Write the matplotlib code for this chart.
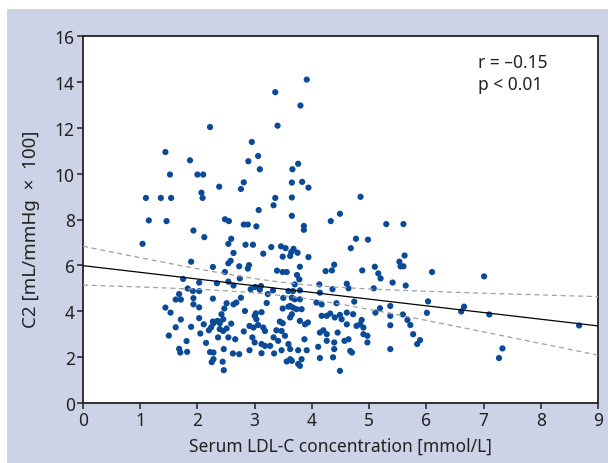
import numpy as np
import matplotlib
matplotlib.use('Agg')
import matplotlib.pyplot as plt
from matplotlib.patches import Rectangle

plt.rcParams['font.family'] = ['Noto Sans', 'DejaVu Sans']

# serum LDL-C [mmol/L] and C2 [mL/mmHg x 100]
ldl = [3.91, 3.36, 3.80, 2.22, 3.40, 2.95, 1.44, 1.87, 2.89, 3.06, 1.52, 2.00, 2.10, 3.09, 2.81, 2.38, 2.76,
       2.07, 2.09, 1.10, 1.36, 1.54, 3.36, 3.33, 3.07, 1.15, 1.46, 2.48, 2.55, 2.81, 2.88, 3.03, 1.93, 2.12,
       1.04, 2.59, 2.54, 2.84, 2.97, 3.29, 3.46, 2.63, 3.15, 1.89, 2.27, 2.54, 2.58, 2.73, 2.90, 2.88, 3.39,
       3.76, 3.66, 3.65, 3.83, 3.94, 3.65, 4.85, 3.65, 4.49, 4.33, 5.30, 3.86, 3.86, 4.77, 4.98, 4.68, 3.54,
       3.68, 3.64, 3.62, 3.75, 3.49, 3.94,
       5.60, 5.62, 5.53, 5.55, 5.60, 6.10, 7.01, 5.41, 5.64, 5.37, 5.37, 5.37, 5.37, 6.03, 6.01, 5.59, 5.67,
       5.72, 5.77, 5.84, 5.89, 6.61, 6.66, 7.10, 7.33, 7.27, 8.67,
       1.75, 2.03, 1.83, 1.92, 2.03, 1.68, 1.62, 1.71, 1.93, 1.93, 2.27, 1.44, 1.53, 2.03, 1.71, 2.03, 2.11,
       2.27, 1.62, 1.89, 2.20, 2.24, 2.05, 1.50, 1.81, 2.15, 1.68, 1.70, 1.82, 2.22, 2.25,
       2.48, 3.49, 3.56, 2.74, 2.34, 2.54, 2.63, 2.93, 3.01, 3.11, 3.09, 3.32, 3.23, 3.50, 2.76, 2.51, 2.63,
       2.68, 3.21, 2.47, 3.49, 3.59, 2.83, 3.02, 3.00, 3.12, 2.42, 2.35, 2.28, 2.39, 2.45, 2.59, 3.03, 3.44,
       3.49, 2.39, 2.45, 2.51, 2.81, 2.91, 2.98, 3.06, 3.15, 3.18, 3.38, 3.47, 2.36, 2.54, 2.66, 2.96, 3.00,
       3.33, 3.41, 3.12, 3.18, 3.27, 2.46, 2.28, 2.91, 2.62, 2.73, 3.12, 3.34, 3.47, 3.56, 2.28, 2.44, 2.46,
       3.79, 3.74, 3.78, 4.24, 4.39, 4.35, 4.88, 3.70, 3.79, 3.59, 3.67, 4.13, 4.14, 4.36, 4.61, 4.64, 3.65,
       3.70, 3.79, 4.08, 4.17, 4.43, 4.74, 3.62, 3.67, 3.73, 3.82, 3.65, 3.62, 4.17, 4.26, 4.32, 4.40, 4.49,
       4.52, 4.61, 4.61, 4.72, 4.78, 4.84, 4.90, 3.79, 3.88, 3.93, 3.53, 3.87, 4.14, 4.20, 4.26, 4.26, 4.45,
       4.57, 4.64, 4.39, 4.39, 3.59, 3.62, 3.76, 3.91, 4.11, 4.67, 4.70, 3.62, 3.65, 3.82, 3.76, 3.79, 4.14,
       4.37, 4.49,
       5.10, 5.16, 5.20, 5.08, 5.19, 5.11, 4.87, 4.90, 4.97, 4.97]
c2 = [14.10, 13.55, 12.97, 12.03, 12.09, 11.38, 10.94, 10.58, 10.54, 10.77, 9.96, 9.96, 9.96, 10.19, 9.62,
      9.43, 9.33, 9.17, 8.94, 8.94, 8.94, 8.94, 8.94, 8.62, 8.41, 7.96, 7.93, 8.01, 7.93, 7.78, 7.78, 7.70,
      7.52, 7.23, 6.94, 7.16, 6.94, 6.90, 6.90, 6.80, 6.83, 6.54, 6.51, 6.16, 5.93, 6.09, 6.20, 5.96, 6.01,
      5.86, 5.77,
      10.43, 10.19, 9.61, 9.64, 9.39, 8.96, 8.99, 8.16, 8.25, 7.93, 7.80, 7.72, 7.55, 7.16, 7.12, 6.75, 6.75,
      6.72, 6.58, 6.41, 6.55, 6.38, 6.36,
      7.80, 6.43, 6.16, 5.96, 5.96, 5.71, 5.52, 5.25, 5.12, 4.23, 3.80, 3.39, 2.35, 4.43, 3.93, 3.86, 3.62,
      3.40, 3.00, 2.57, 2.74, 3.99, 4.20, 3.86, 2.38, 1.96, 3.38,
      5.41, 5.25, 4.99, 4.88, 4.88, 4.75, 4.51, 4.51, 4.57, 4.30, 4.55, 4.16, 3.94, 4.17, 3.64, 3.70, 3.43,
      3.55, 3.30, 3.32, 3.17, 3.30, 3.03, 2.94, 2.70, 2.62, 2.36, 2.20, 2.23, 2.22, 1.78,
      5.71, 5.71, 5.71, 5.43, 5.22, 5.29, 5.12, 4.96, 5.06, 5.10, 4.94, 4.91, 4.75, 4.58, 4.59, 4.35, 4.30,
      4.38, 4.36, 4.12, 4.12, 4.20, 4.01, 3.91, 3.80, 3.96, 3.87, 3.58, 3.48, 3.48, 3.65, 3.46, 3.65, 3.55,
      3.48, 3.22, 3.14, 3.25, 3.12, 3.36, 3.29, 3.40, 3.29, 3.14, 3.17, 3.14, 2.86, 2.86, 2.78, 2.86, 2.64,
      2.86, 2.71, 2.57, 2.49, 2.49, 2.35, 2.20, 2.30, 2.16, 2.13, 2.17, 2.16, 2.30, 1.81, 1.91, 1.80, 1.43,
      5.94, 5.58, 5.39, 5.75, 6.03, 5.78, 5.78, 5.17, 4.91, 4.88, 4.88, 5.17, 4.81, 4.96, 5.20, 5.00, 4.59,
      4.52, 4.52, 4.38, 4.30, 4.35, 4.42, 4.23, 4.16, 4.09, 4.09, 3.87, 3.73, 3.80, 3.80, 3.90, 3.73, 3.84,
      3.65, 3.94, 3.43, 3.87, 3.36, 3.43, 3.29, 3.58, 3.43, 3.51, 2.93, 2.78, 3.07, 3.17, 3.00, 2.71, 3.07,
      2.71, 2.78, 2.64, 2.35, 2.57, 2.35, 2.30, 2.30, 2.45, 2.27, 2.20, 1.91, 1.84, 1.91, 1.70, 1.62, 1.96,
      1.99, 1.40,
      5.94, 5.65, 5.43, 5.00, 4.13, 3.94, 3.62, 3.00, 2.93, 2.64]
stats_text = 'r = \u20130.15\np < 0.01'

x = np.array(ldl)
y = np.array(c2)

# linear fit + 95% confidence band of the mean
slope, intercept = np.polyfit(x, y, 1)
n = len(x)
resid = y - (intercept + slope * x)
s = np.sqrt(np.sum(resid ** 2) / (n - 2))
sxx = np.sum((x - x.mean()) ** 2)
xx = np.linspace(0, 9, 200)
yy = intercept + slope * xx
half = 1.97 * s * np.sqrt(1 / n + (xx - x.mean()) ** 2 / sxx)

fig = plt.figure(figsize=(6.08, 4.64), dpi=100)
fig.patch.set_facecolor('#cdd3e6')
# white margin strips at the top and left of the page
fig.add_artist(Rectangle((0, 454 / 464), 1, 10 / 464, transform=fig.transFigure,
                         facecolor='white', edgecolor='none', zorder=-5))
fig.add_artist(Rectangle((0, 0), 7 / 608, 1, transform=fig.transFigure,
                         facecolor='white', edgecolor='none', zorder=-5))

ax = fig.add_axes([83 / 608, 60 / 464, 515 / 608, 367 / 464])
ax.set_facecolor('white')
ax.scatter(x, y, s=20, color='#0a4a96', edgecolors='none', zorder=2)
ax.plot(xx, yy, color='black', lw=0.9, zorder=3)
ax.plot(xx, yy + half, color='#a0a0a0', lw=0.9, ls=(0, (4, 3)), zorder=3)
ax.plot(xx, yy - half, color='#a0a0a0', lw=0.9, ls=(0, (4, 3)), zorder=3)

ax.set_xlim(0, 9)
ax.set_ylim(0, 16)
ax.set_xticks(range(0, 10))
ax.set_yticks(range(0, 17, 2))
ax.tick_params(direction='out', length=4, width=1.1, labelsize=12.5, pad=2, colors='#222222')
for sp in ax.spines.values():
    sp.set_linewidth(1.3)
    sp.set_color('#222222')

ax.set_xlabel('Serum LDL-C concentration [mmol/L]', fontsize=12.5, color='#222222', labelpad=5)
ax.set_ylabel('C2 [mL/mmHg  \u00d7  100]', fontsize=13.5, color='#222222')
ax.yaxis.set_label_coords(-0.083, 0.477)
ax.text(0.767, 0.955, stats_text, transform=ax.transAxes, ha='left', va='top',
        fontsize=12.5, color='#222222', linespacing=1.35)

fig.savefig('out.png', dpi=100, facecolor=fig.get_facecolor())
